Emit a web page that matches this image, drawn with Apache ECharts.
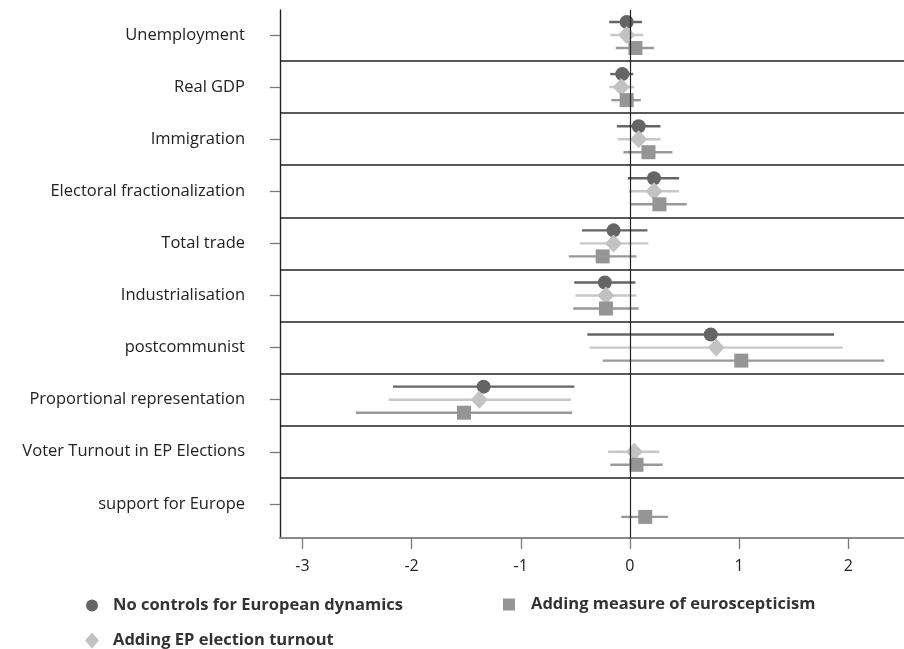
<!DOCTYPE html>
<html>
<head>
<meta charset="utf-8">
<script src="https://cdn.jsdelivr.net/npm/echarts@6/dist/echarts.min.js"></script>
<style>html,body{margin:0;padding:0;background:#fff}#c{width:904px;height:649px}</style>
</head>
<body>
<div id="c"></div>
<script>
const categories = ['Unemployment','Real GDP','Immigration','Electoral fractionalization','Total trade','Industrialisation','postcommunist','Proportional representation','Voter Turnout in EP Elections','support for Europe'];
const xTicks = [-3, -2, -1, 0, 1, 2];

// No controls for European dynamics (circle)
const m1Est = [-0.03, -0.07, 0.08, 0.22, -0.15, -0.23, 0.74, -1.34, null, null];
const m1Lo  = [-0.19, -0.18, -0.12, -0.02, -0.44, -0.51, -0.39, -2.17, null, null];
const m1Hi  = [0.11, 0.03, 0.28, 0.45, 0.16, 0.05, 1.87, -0.51, null, null];

// Adding EP election turnout (diamond)
const m2Est = [-0.03, -0.08, 0.08, 0.22, -0.15, -0.22, 0.79, -1.38, 0.04, null];
const m2Lo  = [-0.18, -0.19, -0.11, -0.01, -0.46, -0.50, -0.37, -2.21, -0.20, null];
const m2Hi  = [0.12, 0.04, 0.28, 0.45, 0.17, 0.06, 1.95, -0.54, 0.27, null];

// Adding measure of euroscepticism (square)
const m3Est = [0.05, -0.03, 0.17, 0.27, -0.25, -0.22, 1.02, -1.52, 0.06, 0.14];
const m3Lo  = [-0.13, -0.17, -0.06, 0.01, -0.56, -0.52, -0.25, -2.51, -0.18, -0.08];
const m3Hi  = [0.22, 0.10, 0.39, 0.52, 0.06, 0.08, 2.33, -0.53, 0.30, 0.35];

const names = ['No controls for European dynamics', 'Adding EP election turnout', 'Adding measure of euroscepticism'];

const FONT = 'Open Sans';
const OFF = 0.25;
const models = [
  {name: names[0], est: m1Est, lo: m1Lo, hi: m1Hi, off: -OFF, symbol: 'circle', size: 14, color: '#656565', line: '#656565'},
  {name: names[1], est: m2Est, lo: m2Lo, hi: m2Hi, off: 0, symbol: 'diamond', size: [17, 18], color: '#c2c2c2', line: '#c8c8c8'},
  {name: names[2], est: m3Est, lo: m3Lo, hi: m3Hi, off: OFF, symbol: 'rect', size: 14, color: '#959595', line: '#999999'}
];

const series = [];
const bandLines = [];
for (let i = 0; i < categories.length - 1; i++) bandLines.push({yAxis: i + 0.5});
series.push({
  type: 'scatter', data: [], z: 1, silent: true,
  markLine: {
    silent: true, symbol: 'none', animation: false,
    label: {show: false},
    lineStyle: {color: '#222', width: 1.6, type: 'solid'},
    data: bandLines.concat([{xAxis: 0, lineStyle: {color: '#222', width: 1.2}}])
  }
});
models.forEach(m => {
  const bars = [], pts = [];
  m.est.forEach((v, i) => {
    if (v === null) return;
    bars.push([m.lo[i], m.hi[i], i + m.off]);
    pts.push([v, i + m.off]);
  });
  series.push({
    type: 'custom', z: 2, silent: true, animation: false,
    encode: {x: [0, 1], y: 2},
    data: bars,
    renderItem: (params, api) => {
      const a = api.coord([api.value(0), api.value(2)]);
      const b = api.coord([api.value(1), api.value(2)]);
      return {type: 'line', shape: {x1: a[0], y1: a[1], x2: b[0], y2: b[1]}, style: {stroke: m.line, lineWidth: 2.4}};
    }
  });
  series.push({
    name: m.name, type: 'scatter', z: 3, animation: false,
    symbol: m.symbol, symbolSize: m.size,
    itemStyle: {color: m.color, opacity: 1},
    data: pts
  });
});

const legendText = {fontFamily: FONT, fontSize: 16.5, fontWeight: 'bold', color: '#333'};
const chart = echarts.init(document.getElementById('c'), null, {renderer: 'canvas'});
chart.setOption({
  animation: false,
  backgroundColor: '#fff',
  grid: {left: 280, right: 0, top: 10, bottom: 111, containLabel: false},
  xAxis: {
    type: 'value', min: -3.205, max: 2.51, position: 'bottom',
    axisLine: {show: true, onZero: false, lineStyle: {color: '#8a8a8a', width: 2}},
    axisTick: {show: true, customValues: xTicks, length: 11, lineStyle: {color: '#777', width: 1.3}},
    axisLabel: {customValues: xTicks, margin: 20, fontFamily: FONT, fontSize: 16, color: '#222'},
    splitLine: {show: false}
  },
  yAxis: {
    type: 'value', inverse: true, min: -0.48, max: 9.655, position: 'left',
    axisLine: {show: true, onZero: false, lineStyle: {color: '#222', width: 1.4}},
    axisTick: {show: true, customValues: categories.map((c, i) => i), length: 10, lineStyle: {color: '#777', width: 1.3}},
    axisLabel: {customValues: categories.map((c, i) => i), margin: 35, fontFamily: FONT, fontSize: 16.5, color: '#222',
      formatter: v => categories[Math.round(v)] || ''},
    splitLine: {show: false}
  },
  legend: [
    {data: [{name: names[0], icon: 'circle'}], left: 81, top: 592, itemWidth: 12, itemHeight: 12,
     textStyle: Object.assign({padding: [0, 0, 0, 10]}, legendText), selectedMode: false},
    {data: [{name: names[2], icon: 'rect'}], left: 498, top: 591, itemWidth: 12, itemHeight: 12,
     textStyle: Object.assign({padding: [0, 0, 0, 11]}, legendText), selectedMode: false},
    {data: [{name: names[1], icon: 'diamond'}], left: 80, top: 627, itemWidth: 14, itemHeight: 16,
     textStyle: Object.assign({padding: [0, 0, 0, 9]}, legendText), selectedMode: false}
  ],
  series: series
});
</script>
</body>
</html>
